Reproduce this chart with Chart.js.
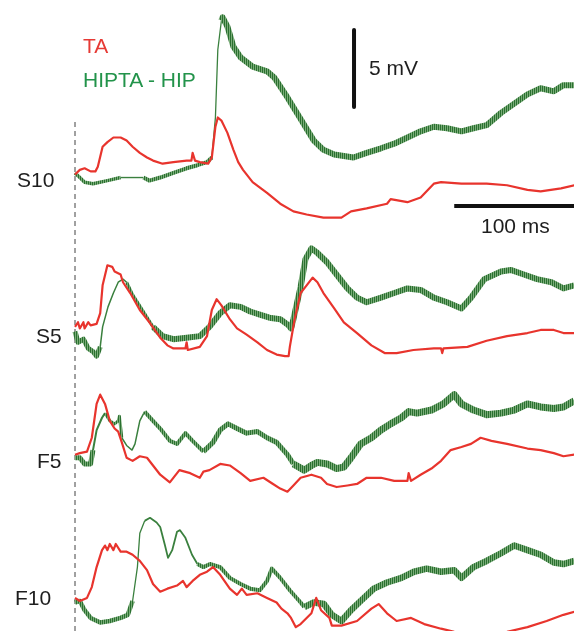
<!DOCTYPE html>
<html>
<head>
<meta charset="utf-8">
<script src="https://cdn.jsdelivr.net/npm/chart.js@4.4.1/dist/chart.umd.min.js"></script>
<style>
  html, body { margin: 0; padding: 0; background: #fff; }
  #wrap { position: relative; width: 574px; height: 631px; overflow: hidden; }
  .lbl {
    position: absolute;
    font-family: Arial, "Liberation Sans", sans-serif;
    font-size: 21px;
    line-height: 21px;
    white-space: nowrap;
    color: #1e1e1e;
  }
</style>
</head>
<body>
<div id="wrap">
  <canvas id="traceChart" width="574" height="631"></canvas>
  <div class="lbl" style="left:83px;top:35px;color:#e63a35">TA</div>
  <div class="lbl" style="left:83px;top:69px;color:#22934a">HIPTA - HIP</div>
  <div class="lbl" style="left:369px;top:57px">5 mV</div>
  <div class="lbl" style="left:481px;top:215px">100 ms</div>
  <div class="lbl" style="left:17px;top:169px">S10</div>
  <div class="lbl" style="left:36px;top:325px">S5</div>
  <div class="lbl" style="left:37px;top:450px">F5</div>
  <div class="lbl" style="left:15px;top:587px">F10</div>
</div>
<script>
// time in ms (0 = stimulus, dashed line), voltage in mV from each trace's start level

// S10
const s10TaTime = [0,4,8,13,17,19,23,27,32,38,43,48,54,60,65,73,82,93,97,98,100,104,111,114,117,119,122,127,132,136,140,148,160,171,182,193,207,222,230,243,260,263,277,288,299,305,322,343,360,377,388,405,416];
const s10TaMv = [0.1,0.4,0.5,0.3,0.3,0.6,1.9,2.2,2.5,2.5,2.3,1.9,1.5,1.2,1.0,0.8,0.9,1.0,1.0,1.5,1.0,0.9,0.8,1.2,3.2,3.8,3.6,2.8,1.7,0.9,0.4,-0.4,-1.1,-1.8,-2.3,-2.5,-2.7,-2.7,-2.3,-2.1,-1.8,-1.5,-1.7,-1.4,-0.5,-0.4,-0.5,-0.5,-0.6,-0.9,-1.0,-0.8,-0.6];
const s10HipTime = [0,4,8,15,27,38,48,57,62,71,82,93,102,110,114,117,119,122,123,127,132,138,148,160,166,177,188,199,207,216,232,243,255,266,277,288,299,310,322,332,343,355,366,377,388,399,407,416];
const s10HipMv = [0.2,-0.1,-0.4,-0.5,-0.3,-0.1,-0.1,-0.1,-0.3,-0.1,0.2,0.5,0.7,0.9,1.2,3.8,8.2,10.1,10.3,9.7,8.4,7.7,7.1,6.8,6.4,5.1,3.7,2.3,1.7,1.4,1.2,1.5,1.8,2.1,2.5,2.9,3.2,3.1,2.9,3.1,3.3,4.1,4.7,5.3,5.7,5.5,5.9,5.9];

// S5
const s5TaTime = [0,2.5,4,7,8,11,13,18,21,23,27,31,33,38,40,46,54,62,71,77,82,90,92,93,94,104,110,114,118,122,129,135,143,152,160,168,175,178,179,183,188,193,198,202,207,216,224,235,247,258,268,282,299,305,306,307,327,343,360,377,388,399,407,416];
const s5TaMv = [0,0.3,-0.1,0.3,-0.1,0.3,0.1,0.2,0.9,2.7,4.0,3.9,3.6,3.4,2.9,2.2,1.1,0.3,-0.7,-1.2,-1.4,-1.4,-1.4,-1.0,-1.5,-1.3,-0.6,1.1,1.8,1.4,0.5,-0.1,-0.5,-1.0,-1.5,-1.8,-1.9,-1.9,-1.3,0.5,2.2,2.7,3.2,2.9,2.2,1.2,0.3,-0.4,-1.2,-1.7,-1.7,-1.5,-1.4,-1.4,-1.7,-1.4,-1.3,-0.9,-0.6,-0.4,-0.2,-0.2,-0.4,-0.4];
const s5HipTime = [0,2.5,7,11,15,18,21,23,27.5,32,36,40,43,48,57,65,73,82,93,104,112,121,129,138,146,154,162,171,178,180,182,188,192,197,202,210,218,227,235,243,255,266,277,288,299,310,322,330,341,355,363,374,385,397,407,416];
const s5HipMv = [-0.3,-1.0,-0.8,-1.4,-1.6,-1.9,-1.3,0.0,1.3,2.2,2.9,3.1,2.9,2.1,1.0,0.0,-0.6,-0.8,-0.7,-0.6,0.0,0.9,1.4,1.3,1.0,0.8,0.6,0.5,0.1,-0.1,0.5,2.6,4.4,5.1,4.8,4.2,3.4,2.5,1.9,1.6,1.9,2.2,2.5,2.4,1.9,1.6,1.2,1.9,3.1,3.6,3.7,3.4,3.1,2.9,2.5,2.7];

// F5
const f5TaTime = [0,4,10,14,18,21,25,29,33,36,39,43,48,54,60,65,71,79,87,96,104,107,112,121,129,138,146,157,165,171,177,182,188,197,205,210,218,227,235,243,255,266,277,278,280,288,297,305,313,322,330,338,347,360,377,388,399,407,416];
const f5TaMv = [0.1,0.2,0.3,1.2,3.4,4.0,3.4,2.3,1.8,1.6,0.9,-0.1,-0.3,0.0,-0.1,-0.6,-1.2,-1.7,-0.9,-1.1,-1.4,-1.0,-0.9,-0.5,-0.6,-1.1,-1.6,-1.4,-1.8,-2.1,-2.3,-1.9,-1.4,-1.2,-1.4,-1.8,-2.0,-1.9,-1.8,-1.4,-1.4,-1.6,-1.6,-1.1,-1.6,-1.2,-0.8,-0.3,0.4,0.6,0.8,1.2,1.0,0.8,0.5,0.4,0.2,0.0,0.1];
const f5HipTime = [0,4,8,13,15,18,22.5,25,29,33,36,37,39,43,47.5,50,54,58,65,71,79,85,92,98,107,115,121,127.5,135,143,152,160,168,177,182,191,197,202,210,218,224,230,238,247,255,263,272,278,285,297,307,316,322,332,343,355,366,377,388,399,407,416];
const f5HipMv = [-0.1,-0.1,-0.5,-0.5,0.4,1.7,2.5,2.8,2.3,2.1,2.3,2.6,1.2,0.7,0.4,0.8,2.3,2.9,2.3,1.8,1.0,0.8,1.5,1.0,0.3,0.9,1.7,2.1,1.8,1.5,1.6,1.2,0.9,0.1,-0.5,-0.9,-0.6,-0.4,-0.5,-0.8,-0.7,-0.1,0.8,1.2,1.7,2.1,2.5,2.9,2.8,3.0,3.4,4.0,3.4,3.0,2.7,2.8,3.0,3.4,3.2,3.1,3.2,3.6];

// F10
const f10TaTime = [0,4,10,14,18,22.5,25,27,29,32,34,38,43,48,54,60,65,71,77,85,90,93,98,104,110,115,121,129,135,139,143,152,160,168,172,177,180,184,188,197,201,205,212,214,222,235,247,253,260,268,280,291,305,316,332,360,377,393,407,416];
const f10TaMv = [0.1,-0.1,0.1,0.8,2.1,3.2,3.5,3.2,3.6,3.2,3.6,3.1,3.1,2.9,2.5,1.9,1.0,0.5,0.7,0.9,1.2,0.8,1.2,1.6,1.8,2.1,1.6,0.7,0.3,0.7,0.3,0.4,0.1,-0.2,-0.6,-0.9,-1.2,-1.8,-1.6,-0.9,0.1,-0.7,-1.2,-1.7,-1.7,-1.4,-0.6,-0.3,-0.9,-1.4,-1.2,-1.6,-1.9,-2.1,-2.2,-2.1,-1.8,-1.4,-1.0,-0.8];
const f10HipTime = [0,4,8,13,21,29,38,44,48,52,54,58,62.5,68,71,75,77.5,81,85,87.5,92,97.5,102,107,112.5,121,129,138,146,154,160,164,171,179,188,191,199,207.5,214,222,230,238,249,260,272,282.5,293,305,316,322,332,343,355,366,377,388,399,407,416];
const f10HipMv = [-0.2,-0.1,-0.7,-1.2,-1.5,-1.4,-1.2,-1.0,-0.1,2.1,4.3,5.1,5.3,5.0,4.7,3.5,2.7,3.2,4.4,4.5,4.0,2.9,2.3,2.1,2.3,2.1,1.4,1.0,0.7,0.6,1.2,2.0,1.4,0.6,-0.2,-0.5,-0.2,-0.3,-1.0,-1.4,-0.7,-0.1,0.7,1.1,1.4,1.8,2.0,1.8,1.9,1.4,2.1,2.5,3.0,3.5,3.2,2.9,2.4,2.3,2.5];

// scale bars
const barMv = 5;
const barMs = 100;

// layout of the stacked traces (mV offsets) and visible window
const OFFSETS = { s10: 0, s5: -9.8, f5: -18.2, f10: -27.5 };
const T_MIN = -62.5, T_MAX = 415.8;
const V_MIN = -29.55, V_MAX = 11.43;

const RED = 'rgb(232,52,45)';
const GREEN = 'rgb(58,128,62)';

// striped fill so the thick HIP band reads like the fast ripple of the recording
function ripplePattern() {
  const c = document.createElement('canvas');
  c.width = 2;
  c.height = 1;
  const p = c.getContext('2d');
  p.fillStyle = 'rgb(42,112,48)';
  p.fillRect(0, 0, 1, 1);
  p.fillStyle = 'rgb(122,172,120)';
  p.fillRect(1, 0, 1, 1);
  return p.createPattern(c, 'repeat');
}

function trace(time, mv, offset) {
  return time.map((t, i) => ({ x: t, y: mv[i] + offset }));
}

function stepAt(steps, t) {
  let s = steps[0];
  steps.forEach(st => { if (t >= st[0]) s = st; });
  return s;
}

function taSet(time, mv, offset) {
  return {
    data: trace(time, mv, offset),
    borderColor: RED,
    borderWidth: 2.2,
    order: 1
  };
}

// steps: [from ms, line width, drawn as ripple band?]
function hipSet(time, mv, offset, steps, band) {
  return {
    data: trace(time, mv, offset),
    borderColor: GREEN,
    borderWidth: steps[0][1],
    segment: {
      borderWidth: c => stepAt(steps, c.p0.parsed.x)[1],
      borderColor: c => stepAt(steps, c.p0.parsed.x)[2] ? band : GREEN
    },
    order: 2
  };
}

function createChart() {
  const ctx = document.getElementById('traceChart').getContext('2d');
  const band = ripplePattern();

  const datasets = [
    taSet(s10TaTime, s10TaMv, OFFSETS.s10),
    hipSet(s10HipTime, s10HipMv, OFFSETS.s10, [[-100, 3.5, true], [33, 1.4, false], [57, 4, true], [113, 1.3, false], [122, 6, true]], band),
    taSet(s5TaTime, s5TaMv, OFFSETS.s5),
    hipSet(s5HipTime, s5HipMv, OFFSETS.s5, [[-100, 5, true], [19, 1.5, false], [43, 3, true], [60, 6, true]], band),
    taSet(f5TaTime, f5TaMv, OFFSETS.f5),
    hipSet(f5HipTime, f5HipMv, OFFSETS.f5, [[-100, 5, true], [14, 2, false], [25, 3, true], [38, 1.5, false], [55, 4, true], [100, 5, true], [180, 7, true]], band),
    taSet(f10TaTime, f10TaMv, OFFSETS.f10),
    hipSet(f10HipTime, f10HipMv, OFFSETS.f10, [[-100, 4.5, true], [46, 1.3, false], [58, 1.8, false], [98, 4, true], [190, 6.5, true]], band),
    // stimulus marker
    {
      data: [{ x: 0, y: 3.5 }, { x: 0, y: V_MIN }],
      borderColor: '#8a8a8a',
      borderWidth: 1.6,
      borderDash: [5, 4],
      order: 3
    },
    // vertical scale bar (5 mV)
    {
      data: [{ x: 232.5, y: 9.48 }, { x: 232.5, y: 9.48 - barMv }],
      borderColor: '#111',
      borderWidth: 4,
      order: 0
    },
    // horizontal scale bar (100 ms)
    {
      data: [{ x: 316, y: -1.95 }, { x: 316 + barMs, y: -1.95 }],
      borderColor: '#111',
      borderWidth: 4,
      order: 0
    }
  ];

  window.traceChart = new Chart(ctx, {
    type: 'line',
    data: { datasets: datasets },
    options: {
      responsive: false,
      animation: false,
      events: [],
      layout: { padding: 0 },
      plugins: {
        legend: { display: false },
        tooltip: { enabled: false }
      },
      elements: {
        point: { radius: 0 },
        line: { tension: 0, borderJoinStyle: 'round', borderCapStyle: 'butt' }
      },
      scales: {
        x: { type: 'linear', min: T_MIN, max: T_MAX, display: false },
        y: { type: 'linear', min: V_MIN, max: V_MAX, display: false }
      }
    }
  });
}

window.addEventListener('DOMContentLoaded', createChart);
</script>
</body>
</html>
